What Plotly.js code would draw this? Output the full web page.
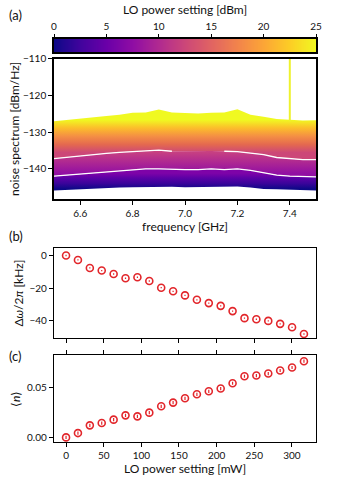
<!DOCTYPE html>
<html>
<head>
<meta charset="utf-8">
<script src="https://cdn.plot.ly/plotly-3.0.1.min.js"></script>
<style>html,body{margin:0;padding:0;background:#fff}#chart{width:339px;height:485px}</style>
</head>
<body>
<div id="chart"></div>
<script>
// (a) noise spectra, every 50 MHz
const freq = [6.5, 6.55, 6.6, 6.65, 6.7, 6.75, 6.8, 6.85, 6.9, 6.95, 7.0, 7.05, 7.1, 7.15, 7.2, 7.25, 7.3, 7.35, 7.4, 7.45, 7.5];
const bottomEdge = [-145.9, -145.7, -145.5, -145.3, -145.2, -145.1, -145.0, -144.9, -144.8, -144.9, -145.0, -145.0, -145.0, -144.9, -144.8, -145.1, -145.5, -145.6, -145.7, -145.8, -145.9];
const gapLow = [-142.0, -141.7, -141.3, -141.1, -140.8, -140.5, -140.2, -140.0, -140.0, -140.2, -140.2, -140.2, -140.0, -140.2, -140.0, -140.4, -141.1, -141.7, -142.0, -142.0, -142.2];
const gapHigh = [-137.2, -136.8, -136.4, -136.1, -135.8, -135.5, -135.3, -135.0, -134.9, -135.2, -135.1, -135.0, -135.1, -135.2, -135.3, -135.7, -136.1, -136.9, -137.3, -137.5, -137.5];
const gapHighSeen = [1, 1, 1, 1, 1, 1, 1, 1, 1, 1, 0, 0, 0, 1, 1, 1, 1, 1, 1, 1, 1];
const topEdge = [-127.0, -126.7, -126.4, -126.1, -125.6, -125.2, -124.7, -124.6, -123.8, -124.6, -124.7, -124.9, -124.7, -124.6, -123.7, -125.2, -125.8, -126.4, -126.6, -126.8, -126.7];
const spikeFreq = [7.4, 7.4];
const spikeLevel = [-127.0, -108.0];

// colour bar, LO power setting in dBm
const cbLevels = [0, 1, 2, 3, 4, 5, 6, 7, 8, 9, 10, 11, 12, 13, 14, 15, 16, 17, 18, 19, 20, 21, 22, 23, 24, 25];
const plasmaStops = [0, 0.1, 0.2, 0.3, 0.4, 0.5, 0.6, 0.7, 0.8, 0.9, 1];
const plasmaColors = ["#0d0887", "#41049d", "#6a00a8", "#8f0da4", "#b12a90", "#cc4778", "#e16462", "#f2844b", "#fca636", "#fcce25", "#f0f921"];

// (b), (c) vs LO power in mW
const loPower = [0, 15.8, 31.6, 47.4, 63.2, 79.0, 94.8, 110.6, 126.4, 142.2, 158.0, 173.8, 189.6, 205.4, 221.2, 237.0, 252.8, 268.6, 284.4, 300.2, 316.0];
const shift = [0, -2.7, -7.6, -9.2, -11.3, -13.9, -13.3, -15.6, -19.7, -21.9, -24.4, -27.1, -29.1, -30.8, -34.0, -38.3, -39.0, -40.0, -41.8, -43.9, -48.0];
const nPhot = [0.000, 0.0043, 0.0120, 0.0143, 0.0177, 0.0220, 0.0210, 0.0247, 0.0310, 0.0347, 0.0390, 0.0430, 0.0460, 0.0487, 0.0540, 0.0610, 0.0617, 0.0637, 0.0667, 0.0697, 0.0760];

const plasma = plasmaStops.map((s, i) => [s, plasmaColors[i]]);
const red = "#e2262b";
const font = "Lato, 'Open Sans', sans-serif";
const none = {hoverinfo: "skip", showlegend: false};

const band = (y, start, stop, cs) => Object.assign({
  x: freq, y, type: "scatter", mode: "lines", line: {width: 0}, fill: "tonexty",
  fillgradient: {type: "vertical", start, stop, colorscale: cs},
  xaxis: "x", yaxis: "y",
}, none);

const traces = [
  Object.assign({x: freq, y: bottomEdge, type: "scatter", mode: "lines", line: {width: 0}, xaxis: "x", yaxis: "y"}, none),
  band(gapLow, -145.5, -141.2, [[0, "#0d0887"], [0.35, "#3a049a"], [0.7, "#5c01a6"], [1, "#7e03a8"]]),
  band(gapHigh, -141.2, -135.2, [[0, "#920fa3"], [0.5, "#ae2892"], [1, "#c94280"]]),
  band(topEdge, -135.6, -126.6, [[0, "#cc4778"], [0.25, "#e4694f"], [0.5, "#f48f44"], [0.75, "#fcbd2b"], [1, "#f0f921"]]),
  Object.assign({x: spikeFreq, y: spikeLevel, type: "scatter", mode: "lines", line: {color: "#eef22e", width: 2}, xaxis: "x", yaxis: "y"}, none),
  Object.assign({x: freq, y: gapLow, type: "scatter", mode: "lines", line: {color: "#fff", width: 1.3}, xaxis: "x", yaxis: "y"}, none),
  Object.assign({x: freq, y: gapHigh.map((v, i) => gapHighSeen[i] ? v : null), type: "scatter", mode: "lines", connectgaps: false,
    line: {color: "#fff", width: 1.3}, xaxis: "x", yaxis: "y"}, none),
  Object.assign({x: cbLevels, y: [0], z: [cbLevels], type: "heatmap", colorscale: plasma, zsmooth: "best", showscale: false,
    xaxis: "x4", yaxis: "y4"}, none),
  Object.assign({x: loPower, y: shift, type: "scatter", mode: "markers",
    marker: {symbol: "circle-open", size: 7, color: red, line: {width: 1.6}},
    error_y: {type: "constant", value: 0.4, width: 0, thickness: 1.2, color: red},
    xaxis: "x2", yaxis: "y2"}, none),
  Object.assign({x: loPower, y: nPhot, type: "scatter", mode: "markers",
    marker: {symbol: "circle-open", size: 7, color: red, line: {width: 1.6}},
    error_y: {type: "constant", value: 0.0016, width: 0, thickness: 1.2, color: red},
    xaxis: "x3", yaxis: "y3"}, none),
];

const tickFont = {family: font, size: 10, color: "#111"};
const titleFont = {family: font, size: 12, color: "#111"};
const ax = (extra) => Object.assign({
  showline: true, linecolor: "#000", linewidth: 1.2, mirror: true, ticks: "outside", ticklen: 4,
  tickwidth: 1, tickcolor: "#000", showgrid: false, zeroline: false, tickfont: tickFont, fixedrange: true,
}, extra);

const layout = {
  width: 339, height: 485,
  margin: {l: 54, r: 23, t: 39, b: 43},
  paper_bgcolor: "#fff", plot_bgcolor: "#fff",
  font: {family: font},
  xaxis: ax({domain: [0, 1], anchor: "y", range: [6.5, 7.5], dtick: 0.2, tick0: 6.6, tickformat: ".1f", linewidth: 1.8,
    title: {text: "frequency [GHz]", font: titleFont, standoff: 3}}),
  yaxis: ax({domain: [0.6033, 0.9504], anchor: "x", range: [-148.2, -110], dtick: 10, linewidth: 1.8,
    title: {text: "noise spectrum [dBm/Hz]", font: titleFont, standoff: 1}}),
  xaxis2: ax({domain: [0, 1], anchor: "y2", range: [-16, 332], dtick: 50, tick0: 0, showticklabels: false}),
  yaxis2: ax({domain: [0.2579, 0.481], anchor: "x2", range: [-50.5, 4.5], dtick: 20,
    title: {text: "Δ<i>ω</i>/2<i>π</i> [kHz]", font: titleFont, standoff: 3}}),
  xaxis3: ax({domain: [0, 1], anchor: "y3", range: [-16, 332], dtick: 50, tick0: 0, mirror: "ticks",
    title: {text: "LO power setting [mW]", font: titleFont, standoff: 4}}),
  yaxis3: ax({domain: [0, 0.2147], anchor: "x3", range: [-0.0046, 0.0817], dtick: 0.05, tickformat: ".2f",
    title: {text: "⟨<i>n</i>⟩", font: titleFont, standoff: 3}}),
  xaxis4: ax({domain: [0, 1], anchor: "y4", side: "top", range: [0, 25], dtick: 5, tick0: 0, ticklen: 3, linewidth: 1.8,
    title: {text: "LO power setting [dBm]", font: titleFont, standoff: 3}}),
  yaxis4: ax({domain: [0.967, 1], anchor: "x4", range: [-0.5, 0.5], ticks: "", showticklabels: false, linewidth: 1.8}),
  annotations: [
    {text: "(a)", x: 7, y: 15},
    {text: "(b)", x: 7, y: 236},
    {text: "(c)", x: 7, y: 356},
  ].map(a => ({text: a.text, xref: "paper", yref: "paper", x: (a.x - 54) / 262, y: (442 - a.y) / 403,
    xanchor: "left", yanchor: "middle", showarrow: false, font: {family: font, size: 13, color: "#111"}})),
};

Plotly.newPlot("chart", traces, layout, {displayModeBar: false, staticPlot: true});
</script>
</body>
</html>
